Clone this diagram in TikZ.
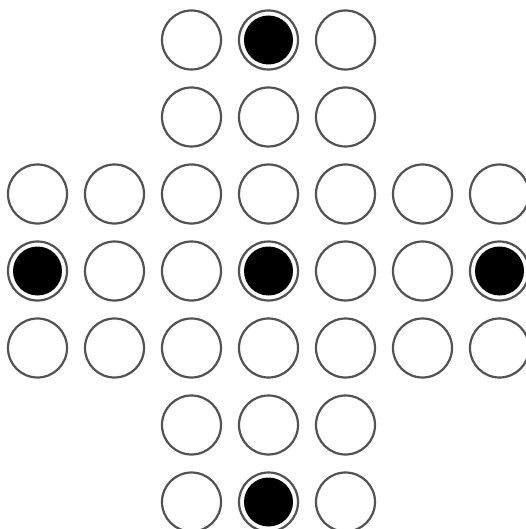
\documentclass[tikz,border=0pt]{standalone}
\begin{document}
\begin{tikzpicture}[x=1pt,y=-1pt,
  hole/.style={circle,draw=black!68,line width=2.2pt,minimum size=59pt,inner sep=0pt,fill=white},
  peg/.style={hole,path picture={\fill[black] (path picture bounding box.center) circle (24.5pt);}}]
\useasboundingbox (0,0) rectangle (526,529);
\clip (0,0) rectangle (526,529);
\foreach \r in {0,...,6}{
  \foreach \c in {0,...,6}{
    \pgfmathtruncatemacro\incross{((\c>=2)&&(\c<=4))||((\r>=2)&&(\r<=4))}
    \pgfmathtruncatemacro\ispeg{((\c==3)&&((\r==0)||(\r==3)||(\r==6)))||((\r==3)&&((\c==0)||(\c==6)))}
    \ifnum\incross=1
      \ifnum\ispeg=1
        \node[peg] (h\r\c) at ({37.5+77*\c},{40+77*\r}) {};
      \else
        \node[hole] (h\r\c) at ({37.5+77*\c},{40+77*\r}) {};
      \fi
    \fi
  }
}
\end{tikzpicture}
\end{document}
